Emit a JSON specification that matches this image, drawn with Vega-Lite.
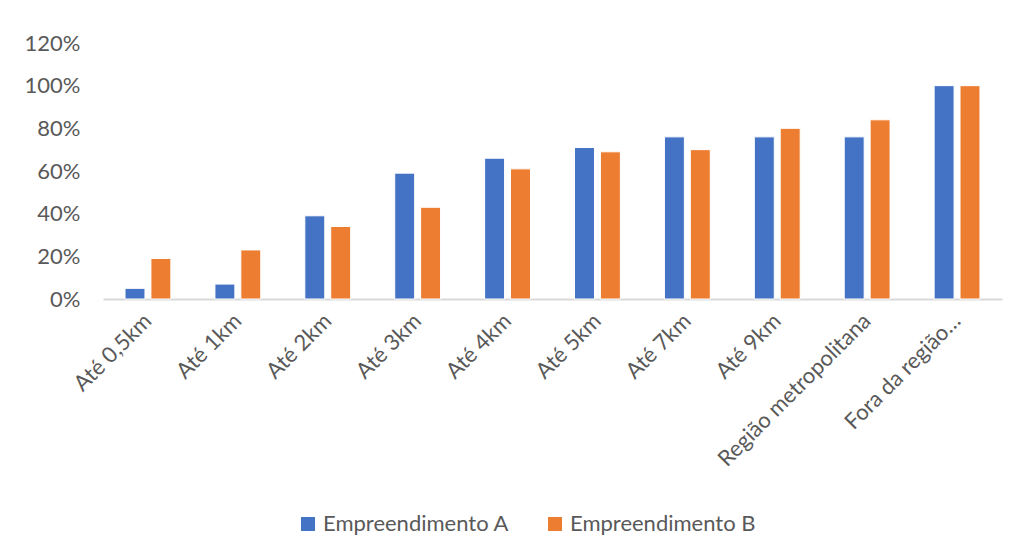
{
  "$schema": "https://vega.github.io/schema/vega-lite/v6.json",
  "width": 899,
  "height": 256,
  "autosize": {"type": "none"},
  "padding": {"left": 103, "top": 43, "right": 18, "bottom": 257},
  "background": "white",
  "config": {
    "view": {"stroke": null},
    "font": "Lato",
    "axis": {"labelFont": "Lato", "labelColor": "#595959", "labelFontSize": 22, "title": null}
  },
  "data": {
    "values": [
      {"cat": "Até 0,5km", "serie": "Empreendimento A", "v": 0.05},
      {"cat": "Até 0,5km", "serie": "Empreendimento B", "v": 0.19},
      {"cat": "Até 1km", "serie": "Empreendimento A", "v": 0.07},
      {"cat": "Até 1km", "serie": "Empreendimento B", "v": 0.23},
      {"cat": "Até 2km", "serie": "Empreendimento A", "v": 0.39},
      {"cat": "Até 2km", "serie": "Empreendimento B", "v": 0.34},
      {"cat": "Até 3km", "serie": "Empreendimento A", "v": 0.59},
      {"cat": "Até 3km", "serie": "Empreendimento B", "v": 0.43},
      {"cat": "Até 4km", "serie": "Empreendimento A", "v": 0.66},
      {"cat": "Até 4km", "serie": "Empreendimento B", "v": 0.61},
      {"cat": "Até 5km", "serie": "Empreendimento A", "v": 0.71},
      {"cat": "Até 5km", "serie": "Empreendimento B", "v": 0.69},
      {"cat": "Até 7km", "serie": "Empreendimento A", "v": 0.76},
      {"cat": "Até 7km", "serie": "Empreendimento B", "v": 0.70},
      {"cat": "Até 9km", "serie": "Empreendimento A", "v": 0.76},
      {"cat": "Até 9km", "serie": "Empreendimento B", "v": 0.80},
      {"cat": "Região metropolitana", "serie": "Empreendimento A", "v": 0.76},
      {"cat": "Região metropolitana", "serie": "Empreendimento B", "v": 0.84},
      {"cat": "Fora da região…", "serie": "Empreendimento A", "v": 1.0},
      {"cat": "Fora da região…", "serie": "Empreendimento B", "v": 1.0}
    ]
  },
  "mark": {"type": "bar", "stroke": "white", "strokeWidth": 1},
  "encoding": {
    "x": {
      "field": "cat",
      "type": "nominal",
      "sort": null,
      "scale": {"paddingInner": 0.49, "paddingOuter": 0.245},
      "axis": {
        "labelAngle": -45,
        "labelAlign": "right",
        "labelBaseline": "middle",
        "labelPadding": 18,
        "ticks": false,
        "domainColor": "#d9d9d9",
        "domainWidth": 2,
        "labelLimit": 300
      }
    },
    "xOffset": {
      "field": "serie",
      "type": "nominal",
      "scale": {"paddingInner": 0.23, "paddingOuter": 0}
    },
    "y": {
      "field": "v",
      "type": "quantitative",
      "scale": {"domain": [0, 1.2], "nice": false},
      "axis": {
        "values": [0, 0.2, 0.4, 0.6, 0.8, 1.0, 1.2],
        "format": ".0%",
        "grid": false,
        "domain": false,
        "ticks": false,
        "labelPadding": 23
      }
    },
    "color": {
      "field": "serie",
      "type": "nominal",
      "scale": {"range": ["#4472C4", "#ED7D31"]},
      "legend": {
        "title": null,
        "orient": "none",
        "direction": "horizontal",
        "legendX": 194,
        "legendY": 470,
        "symbolType": "square",
        "symbolSize": 196,
        "symbolStrokeWidth": 0,
        "labelFont": "Lato",
        "labelFontSize": 22,
        "labelColor": "#595959",
        "labelOffset": 4,
        "columnPadding": 34,
        "labelLimit": 300
      }
    }
  }
}
